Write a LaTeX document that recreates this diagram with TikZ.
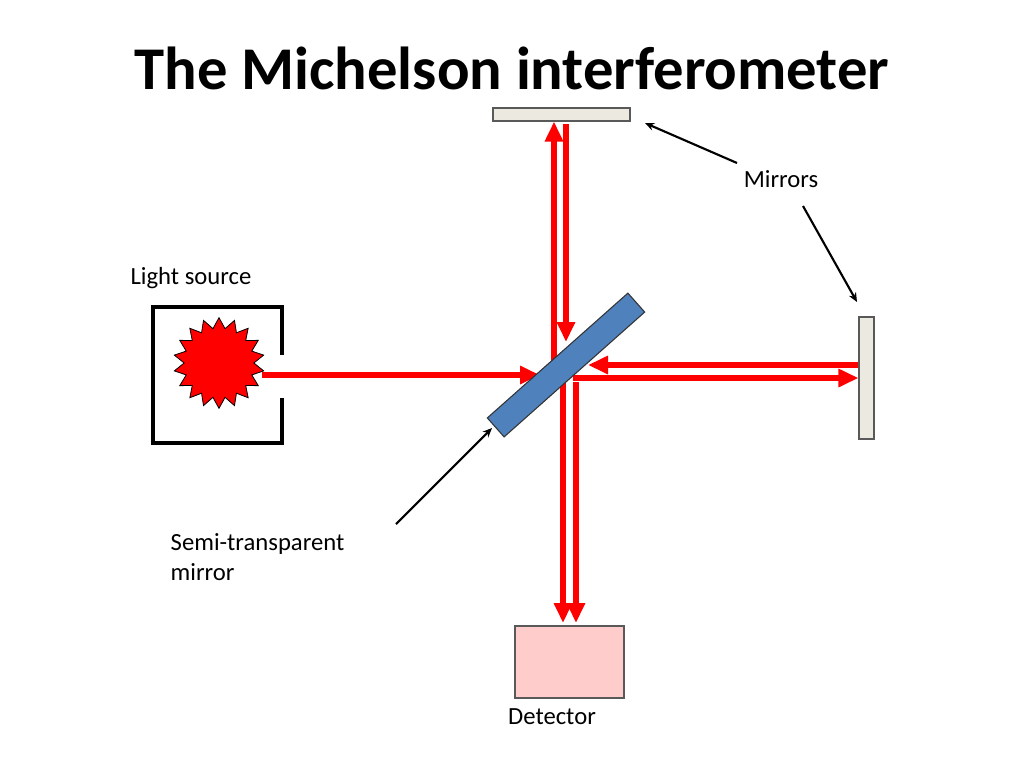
\documentclass[tikz,border=0pt]{standalone}
\usepackage{fontspec}
\setmainfont{Carlito}
\usetikzlibrary{arrows.meta,shapes.geometric}
\definecolor{mirrorfill}{HTML}{ECEAE0}
\definecolor{splitfill}{HTML}{4F81BD}
\definecolor{detfill}{HTML}{FFCCCC}
\begin{document}
\begin{tikzpicture}[x=0.75pt,y=-0.75pt,
      mymirror/.style={
         rectangle,
         draw=gray!70!black,
         fill=mirrorfill,
         line width=0.8pt,
         inner sep=0pt},
      mytext/.style={
         font=\fontsize{18.5}{23}\selectfont,
         align=left},
      mybeam/.style={
         draw=red,
         line width=5.2pt,
         -{Triangle[length=15pt,width=13pt]}},
      myarrow/.style={
         line width=1.6pt,
         -{Stealth[length=7pt,width=6pt]}}
      ]
      \useasboundingbox (0,0) rectangle (1024,768);
      \node[font=\bfseries\fontsize{45.5}{50}\selectfont] (title) at (512,68) {The Michelson interferometer};
      % optical parts
      \node[mymirror,minimum width=102.75pt,minimum height=9.75pt] (mtop) at (561.5,114.5) {};
      \node[mymirror,minimum width=11.25pt,minimum height=91.5pt] (mright) at (866.5,378) {};
      \draw[line width=2.4pt] (282,355) -- (282,307) -- (153,307) -- (153,443) -- (282,443) -- (282,398);
      \node[star,star points=18,star point ratio=1.3,draw=black,fill=red,
            minimum size=68pt,inner sep=0pt,line width=0.6pt] (src) at (219,363) {};
      % beams
      \coordinate (b0) at (262,375);
      \coordinate (b1) at (540,375);
      \draw[mybeam] (b0) -- (b1);
      \draw[mybeam] (554,368) -- (mtop.south -| 554,0);
      \draw[mybeam] (566,124) -- (566,342);
      \draw[mybeam] (573,378) -- (mright.west |- 0,378);
      \draw[mybeam] (mright.west |- 0,365) -- (588,365);
      \draw[mybeam] (563,382) -- (563,623);
      \draw[mybeam] (576,382) -- (576,623);
      \node[rectangle,draw=black!80,fill=splitfill,line width=0.8pt,
            minimum width=141pt,minimum height=19pt,rotate=41.6] (split) at (566,365) {};
      \node[rectangle,draw=gray!70!black,fill=detfill,line width=0.8pt,
            minimum width=81.75pt,minimum height=54pt] (det) at (569.5,662) {};
      % labels
      \node[mytext] (lmir) at (781,179) {Mirrors};
      \node[mytext] (lsrc) at (191,278) {Light source};
      \node[mytext,anchor=west] (lsplit) at (166,557) {Semi-transparent\\mirror};
      \node[mytext] (ldet) at (552,717) {Detector};
      \coordinate (a1) at (737,163);
      \coordinate (a2) at (803,206);
      \coordinate (a3) at (396,524);
      \draw[myarrow] (a1) -- (645,123);
      \draw[myarrow] (a2) -- (857,302);
      \draw[myarrow] (a3) -- (492,428);
\end{tikzpicture}
\end{document}
